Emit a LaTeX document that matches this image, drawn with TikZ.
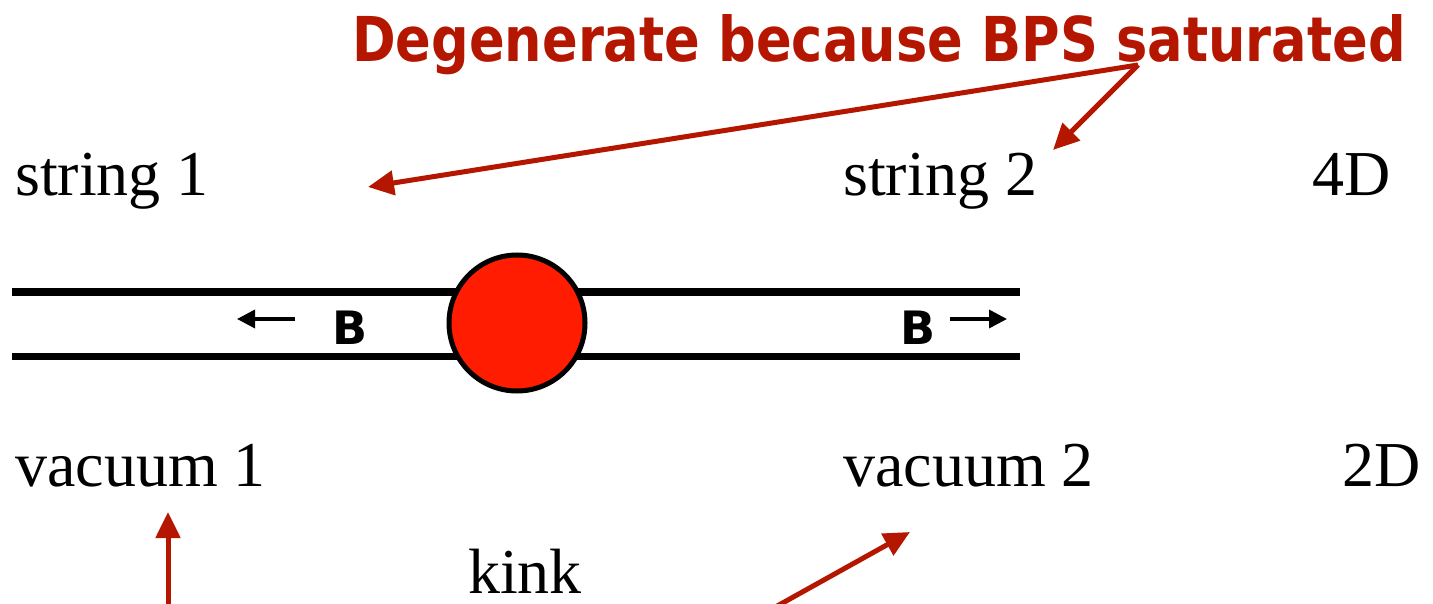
\documentclass[tikz,border=0pt]{standalone}
\usepackage{fontspec}
\setmainfont{Liberation Serif}
\newfontfamily\comicfont{DejaVu Sans}[BoldFont={DejaVu Sans Bold}]
\usetikzlibrary{arrows.meta}
\definecolor{darkred}{RGB}{180,22,0}
\definecolor{ballred}{RGB}{255,28,0}
\tikzset{
  lbl/.style={anchor=base west, inner sep=0pt, font=\fontsize{64}{70}\selectfont},
  lblr/.style={anchor=base east, inner sep=0pt, font=\fontsize{64}{70}\selectfont},
  tube/.style={line width=7pt},
  redarrow/.style={draw=darkred, line width=5pt, -{Triangle[length=26pt,width=24pt]}},
  fieldarrow/.style={line width=3.5pt, -{Triangle[length=18pt,width=18pt]}},
  bfield/.style={inner sep=0pt, font=\comicfont\bfseries\fontsize{46}{50}\selectfont}
}
\begin{document}
\begin{tikzpicture}[x=1pt,y=-1pt]
\useasboundingbox (0,0) rectangle (1433,604);
% texts
\node[lbl] (s1) at (15,196) {string 1};
\node[lbl] (s2) at (843,196) {string 2};
\node[lblr] (d4) at (1391,196) {4D};
\node[lbl] (v1) at (15,486) {vacuum 1};
\node[lbl] (v2) at (843,486) {vacuum 2};
\node[lblr] (d2) at (1421,486) {2D};
\node[anchor=base, inner sep=0pt, font=\fontsize{64}{70}\selectfont] (kink) at (525,593) {kink};
% title
\node[anchor=base west, inner sep=0pt, text=darkred] (title) at (352,62)
  {\resizebox{1053pt}{47pt}{\comicfont\bfseries Degenerate because BPS saturated}};
% tube
\coordinate (tl1) at (12,292); \coordinate (tl2) at (1020,292);
\coordinate (bl1) at (12,356); \coordinate (bl2) at (1020,356);
\draw[tube] (tl1) -- (tl2);
\draw[tube] (bl1) -- (bl2);
\node[circle, draw, line width=5pt, fill=ballred, minimum size=136pt, inner sep=0pt] (ball) at (517,323) {};
% B fields
\node[bfield] (b1) at (350,328) {B};
\node[bfield] (b2) at (918,328) {B};
\coordinate (a1s) at (295,319); \coordinate (a1e) at (237,319);
\coordinate (a2s) at (950,319); \coordinate (a2e) at (1007,319);
\draw[fieldarrow] (a1s) -- (a1e);
\draw[fieldarrow] (a2s) -- (a2e);
% red arrows
\coordinate (src) at (1138,65);
\coordinate (t1) at (368,187);
\coordinate (t2) at (1053,150);
\coordinate (u1) at (168,610);
\coordinate (u1e) at (168,512);
\coordinate (u2) at (770,610);
\coordinate (u2e) at (910,532);
\draw[redarrow] (src) -- (t1);
\draw[redarrow] (src) -- (t2);
\draw[redarrow] (u1) -- (u1e);
\draw[redarrow] (u2) -- (u2e);
\end{tikzpicture}
\end{document}
